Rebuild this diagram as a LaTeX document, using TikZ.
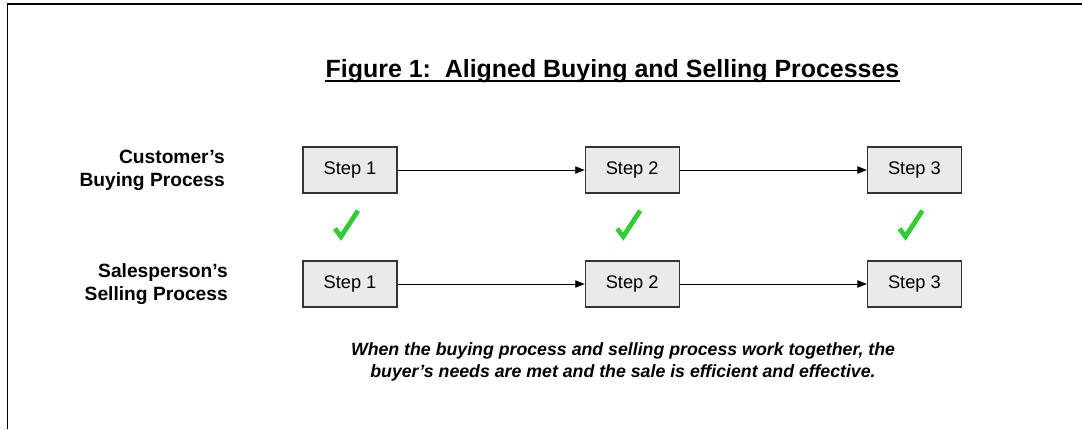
\documentclass[tikz,border=0pt]{standalone}
\usepackage{fontspec}
\setmainfont{Liberation Sans}
\usetikzlibrary{arrows.meta,positioning}
\definecolor{okgreen}{RGB}{50,205,50}
\definecolor{stepfill}{RGB}{234,234,234}

\begin{document}
\begin{tikzpicture}[
  x=0.75pt, y=-0.75pt,
  node distance=140.25pt,
  stepbox/.style={draw=black!80,fill=stepfill,line width=0.9pt,
    minimum width=70.5pt,minimum height=34.5pt,inner sep=0pt,
    font=\fontsize{13.7}{16}\selectfont},
  lane/.style={anchor=east,align=right,inner sep=0pt,
    font=\fontsize{14.4}{17.25}\selectfont\bfseries},
  to/.style={-{Triangle[length=7pt,width=5.5pt]},line width=0.7pt},
  okmark/.style={draw=okgreen,line width=3.6pt,line join=miter},
  every node/.style={align=center}]

  \useasboundingbox (0,0) rectangle (1082,429);

  % page frame
  \draw[line width=1.2pt] (7.5,429) -- (7.5,4) -- (1082,4);

  % heading, underlined by hand
  \node[anchor=base,inner sep=0pt,font=\fontsize{18.7}{22}\selectfont\bfseries]
    (title) at (612.5,77) {Figure 1:\ \ Aligned Buying and Selling Processes};
  \draw[line width=2.2pt] ([yshift=-3pt]title.base west) -- ([yshift=-3pt]title.base east);

  % buying process
  \node[stepbox] (buy1) at (350,170) {Step 1};
  \node[stepbox,right=of buy1] (buy2) {Step 2};
  \node[stepbox,right=of buy2] (buy3) {Step 3};
  \node[lane] (buylane) at (225,170) {Customer’s\\Buying Process};

  % selling process
  \node[stepbox] (sell1) at (350,284) {Step 1};
  \node[stepbox,right=of sell1] (sell2) {Step 2};
  \node[stepbox,right=of sell2] (sell3) {Step 3};
  \node[lane] (selllane) at (228,284) {Salesperson’s\\Selling Process};

  \draw[to] (buy1) -- (buy2);
  \draw[to] (buy2) -- (buy3);
  \draw[to] (sell1) -- (sell2);
  \draw[to] (sell2) -- (sell3);

  % ticks between the matching steps
  \draw[okmark] ([shift={(-15,35)}]buy1.south) -- ++(6,8) -- ++(17,-26);
  \draw[okmark] ([shift={(-15,35)}]buy2.south) -- ++(6,8) -- ++(17,-26);
  \draw[okmark] ([shift={(-15,35)}]buy3.south) -- ++(6,8) -- ++(17,-26);

  \node[font=\fontsize{13.3}{16.5}\selectfont\bfseries\itshape,inner sep=0pt]
    (note) at (623,362) {When the buying process and selling process work together, the\\
    buyer’s needs are met and the sale is efficient and effective.};

\end{tikzpicture}
\end{document}
